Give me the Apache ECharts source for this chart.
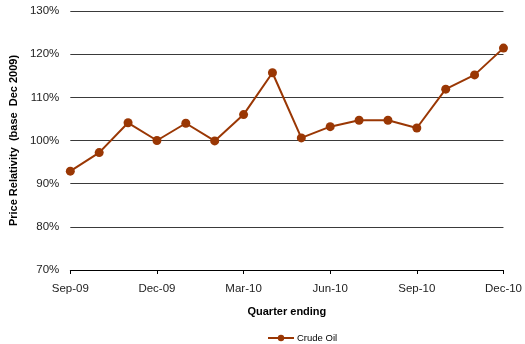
<!DOCTYPE html>
<html>
<head>
<meta charset="utf-8">
<script src="https://cdn.jsdelivr.net/npm/echarts@6/dist/echarts.min.js"></script>
<style>
  html, body { margin: 0; padding: 0; background: #fff; }
  #chart { width: 525px; height: 344px; }
</style>
</head>
<body>
<div id="chart"></div>
<script>
// Monthly observations, quarter-end labels shown on the axis
const months = ['Sep-09', 'Oct-09', 'Nov-09', 'Dec-09', 'Jan-10', 'Feb-10', 'Mar-10', 'Apr-10',
  'May-10', 'Jun-10', 'Jul-10', 'Aug-10', 'Sep-10', 'Oct-10', 'Nov-10', 'Dec-10'];
// Crude oil price relativity, percent of Dec 2009 level
const crudeOil = [92.9, 97.2, 104.1, 100.0, 104.0, 99.9, 106.0, 115.7,
  100.6, 103.2, 104.7, 104.7, 102.9, 111.9, 115.2, 121.4];
const yTicks = { min: 70, max: 130, step: 10 };

const font = 'Liberation Sans, Arial, sans-serif';
const oilColor = '#9a3704';

const chart = echarts.init(document.getElementById('chart'), null, { renderer: 'canvas' });
chart.setOption({
  animation: false,
  backgroundColor: '#ffffff',
  grid: { left: 68, right: 20, top: 11, bottom: 74, containLabel: false },
  xAxis: {
    type: 'category',
    data: months,
    boundaryGap: false,
    name: 'Quarter ending',
    nameLocation: 'middle',
    nameGap: 36,
    nameTextStyle: { fontFamily: font, fontSize: 11, fontWeight: 'bold', color: '#000' },
    axisLine: { lineStyle: { color: '#000', width: 1 } },
    axisTick: { show: true, interval: 2, length: 4, lineStyle: { color: '#000' } },
    axisLabel: { interval: 2, margin: 13, fontFamily: font, fontSize: 11.5, color: '#222' },
    splitLine: { show: false }
  },
  yAxis: {
    type: 'value',
    min: yTicks.min,
    max: yTicks.max,
    interval: yTicks.step,
    name: 'Price Relativity  (base  Dec 2009)',
    nameLocation: 'middle',
    nameRotate: 90,
    nameGap: 51,
    nameTextStyle: { fontFamily: font, fontSize: 11, fontWeight: 'bold', color: '#000' },
    axisLine: { show: false },
    axisTick: { show: false },
    axisLabel: { formatter: v => v + '%', margin: 11, fontFamily: font, fontSize: 11.5, color: '#222' },
    splitLine: { show: true, lineStyle: { color: '#3a3a3a', width: 1 } }
  },
  legend: {
    top: 328,
    left: 262,
    itemWidth: 26,
    itemHeight: 8,
    itemGap: 4,
    textStyle: { fontFamily: font, fontSize: 9.5, color: '#000', padding: [0, 0, 0, -2] },
    data: ['Crude Oil']
  },
  series: [{
    name: 'Crude Oil',
    type: 'line',
    data: crudeOil,
    symbol: 'circle',
    symbolSize: 9,
    lineStyle: { color: oilColor, width: 2 },
    itemStyle: { color: oilColor }
  }]
});
</script>
</body>
</html>
